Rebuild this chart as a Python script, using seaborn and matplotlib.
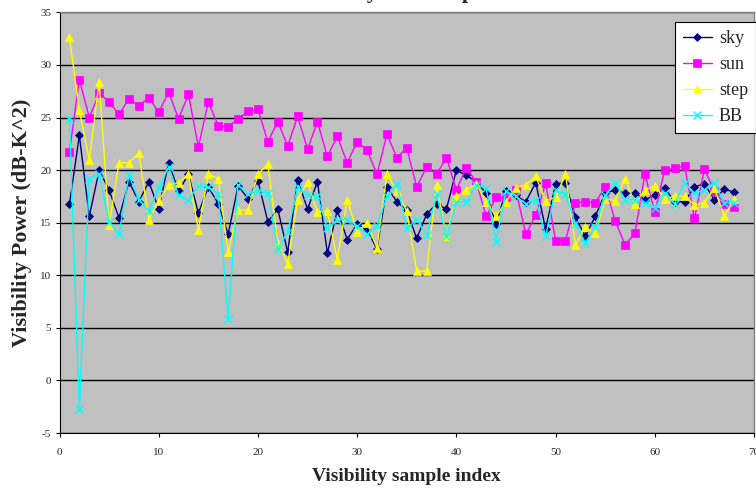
import pandas as pd
import matplotlib
matplotlib.use('Agg')
import matplotlib.pyplot as plt
import seaborn as sns

# values, sample index 1..68
sample_index = list(range(1, 69))

sky = [16.75, 23.3, 15.6, 20.0, 18.1, 15.45, 18.9, 17.0, 18.9, 16.3,
       20.7, 18.0, 19.6, 15.9, 18.4, 16.8, 13.9, 18.5, 17.3, 19.0,
       15.1, 16.3, 12.2, 19.1, 16.3, 18.9, 12.1, 16.2, 13.4, 14.9,
       14.3, 12.5, 18.4, 17.0, 16.2, 13.5, 15.8, 16.8, 16.3, 20.0,
       19.5, 18.9, 17.8, 14.9, 18.0, 17.6, 17.0, 18.8, 14.4, 18.7,
       18.8, 15.5, 13.7, 15.6, 17.8, 18.1, 17.8, 17.8, 17.2, 17.6,
       18.3, 17.0, 17.0, 18.4, 18.7, 17.2, 18.2, 17.9]

sun = [21.7, 28.6, 25.0, 27.3, 26.5, 25.3, 26.8, 26.1, 26.9, 25.5,
       27.4, 24.9, 27.2, 22.2, 26.5, 24.2, 24.1, 24.9, 25.6, 25.8,
       22.7, 24.6, 22.3, 25.1, 22.0, 24.6, 21.3, 23.2, 20.7, 22.7,
       21.9, 19.6, 23.4, 21.2, 22.1, 18.4, 20.3, 19.6, 21.2, 18.1,
       20.2, 18.9, 15.6, 17.4, 17.4, 18.1, 13.9, 15.7, 18.75, 13.3,
       13.3, 16.9, 17.0, 16.9, 18.4, 15.2, 12.9, 14.0, 19.6, 16.0,
       20.0, 20.2, 20.4, 15.4, 20.1, 18.0, 16.8, 16.5]

step = [32.7, 25.7, 21.0, 28.4, 14.75, 20.7, 20.7, 21.6, 15.3, 17.1,
        18.6, 18.8, 19.6, 14.3, 19.6, 19.2, 12.2, 16.2, 16.2, 19.6,
        20.6, 13.1, 11.1, 17.2, 18.9, 16.0, 16.1, 11.5, 17.2, 14.1,
        15.0, 12.6, 19.6, 18.0, 16.1, 10.4, 10.4, 18.6, 13.7, 17.5,
        18.1, 18.7, 17.0, 15.6, 17.0, 18.3, 18.6, 19.4, 17.1, 17.4,
        19.6, 12.9, 14.6, 14.0, 17.3, 17.1, 19.2, 16.8, 18.1, 18.5,
        17.3, 17.5, 17.5, 16.7, 16.9, 18.3, 15.6, 17.3]

bb = [24.9, -2.7, 19.2, 19.6, 15.1, 13.9, 19.5, 17.2, 16.1, 18.3,
      20.3, 17.6, 17.2, 18.5, 18.4, 17.7, 5.85, 18.6, 17.7, 18.05,
      17.8, 12.5, 14.1, 18.4, 17.6, 17.5, 14.5, 15.3, 15.3, 14.7,
      13.9, 14.7, 17.5, 18.7, 14.5, 15.3, 13.8, 17.7, 13.7, 17.0,
      17.0, 18.6, 18.3, 13.2, 18.0, 17.5, 16.8, 17.2, 13.7, 18.1,
      17.7, 14.9, 13.1, 14.6, 17.6, 18.8, 17.2, 17.2, 16.9, 16.4,
      17.8, 16.8, 18.75, 17.8, 18.1, 18.8, 16.9, 16.9]

series_names = ['sky', 'sun', 'step', 'BB']

df = pd.concat([
    pd.DataFrame({'index': sample_index, 'power': vals, 'series': name})
    for name, vals in zip(series_names, [sky, sun, step, bb])
])

palette = {'sky': '#000080', 'sun': '#FF00FF', 'step': '#FFFF00', 'BB': '#00FFFF'}
markers = {'sky': 'D', 'sun': 's', 'step': '^', 'BB': 'x'}
sizes = {'sky': 4.5, 'sun': 5.5, 'step': 6, 'BB': 5.5}

sns.set_style('white')
plt.rcParams['font.family'] = ['Liberation Serif', 'DejaVu Serif']
plt.rcParams['axes.unicode_minus'] = False

fig = plt.figure(figsize=(7.56, 4.9), dpi=100)
ax = fig.add_axes([59.5 / 756, (490 - 433) / 490, (754 - 59.5) / 756, (433 - 12.4) / 490])
ax.set_facecolor('#C0C0C0')

for name in series_names:
    sub = df[df['series'] == name]
    sns.lineplot(data=sub, x='index', y='power', ax=ax, color=palette[name],
                 marker=markers[name], markersize=sizes[name],
                 markeredgecolor=palette[name], markeredgewidth=1.0 if name == 'BB' else 0.5,
                 linewidth=1.0, label=name, zorder=3)

ax.set_xlim(0, 70)
ax.set_ylim(-5, 35)
ax.set_xticks(range(0, 71, 10))
ax.set_yticks(range(-5, 36, 5))
ax.yaxis.grid(True, color='black', linewidth=1.0)
ax.xaxis.grid(False)
ax.set_axisbelow(True)
ax.tick_params(axis='both', labelsize=8, direction='out', length=3, width=0.8,
               color='black', left=True, bottom=True, pad=3)
ax.tick_params(axis='x', pad=8)
for side in ['left', 'bottom']:
    ax.spines[side].set_color('black')
    ax.spines[side].set_linewidth(0.8)
for side in ['top', 'right']:
    ax.spines[side].set_color('#808080')
    ax.spines[side].set_linewidth(1.0)

ax.set_xlabel('Visibility sample index', fontsize=14, fontweight='bold', labelpad=8)
ax.set_ylabel('Visibility Power (dB-K^2)', fontsize=16, fontweight='bold', labelpad=6)

leg = ax.legend(loc='upper right', bbox_to_anchor=(1.0, (490 - 22) / 490),
                bbox_transform=fig.transFigure, borderaxespad=0, fontsize=13,
                frameon=True, fancybox=False, edgecolor='black', framealpha=1,
                handlelength=1.6, handletextpad=0.4, labelspacing=0.5, borderpad=0.45)
leg.get_frame().set_linewidth(0.8)

# title is clipped by the top edge in the reference
fig.text(292 / 756, 1 + 2 / 490, 'Visibility Power Spectrum', fontsize=16,
         fontweight='bold', ha='left', va='baseline')

plt.savefig('out.png', dpi=100)
plt.close()
